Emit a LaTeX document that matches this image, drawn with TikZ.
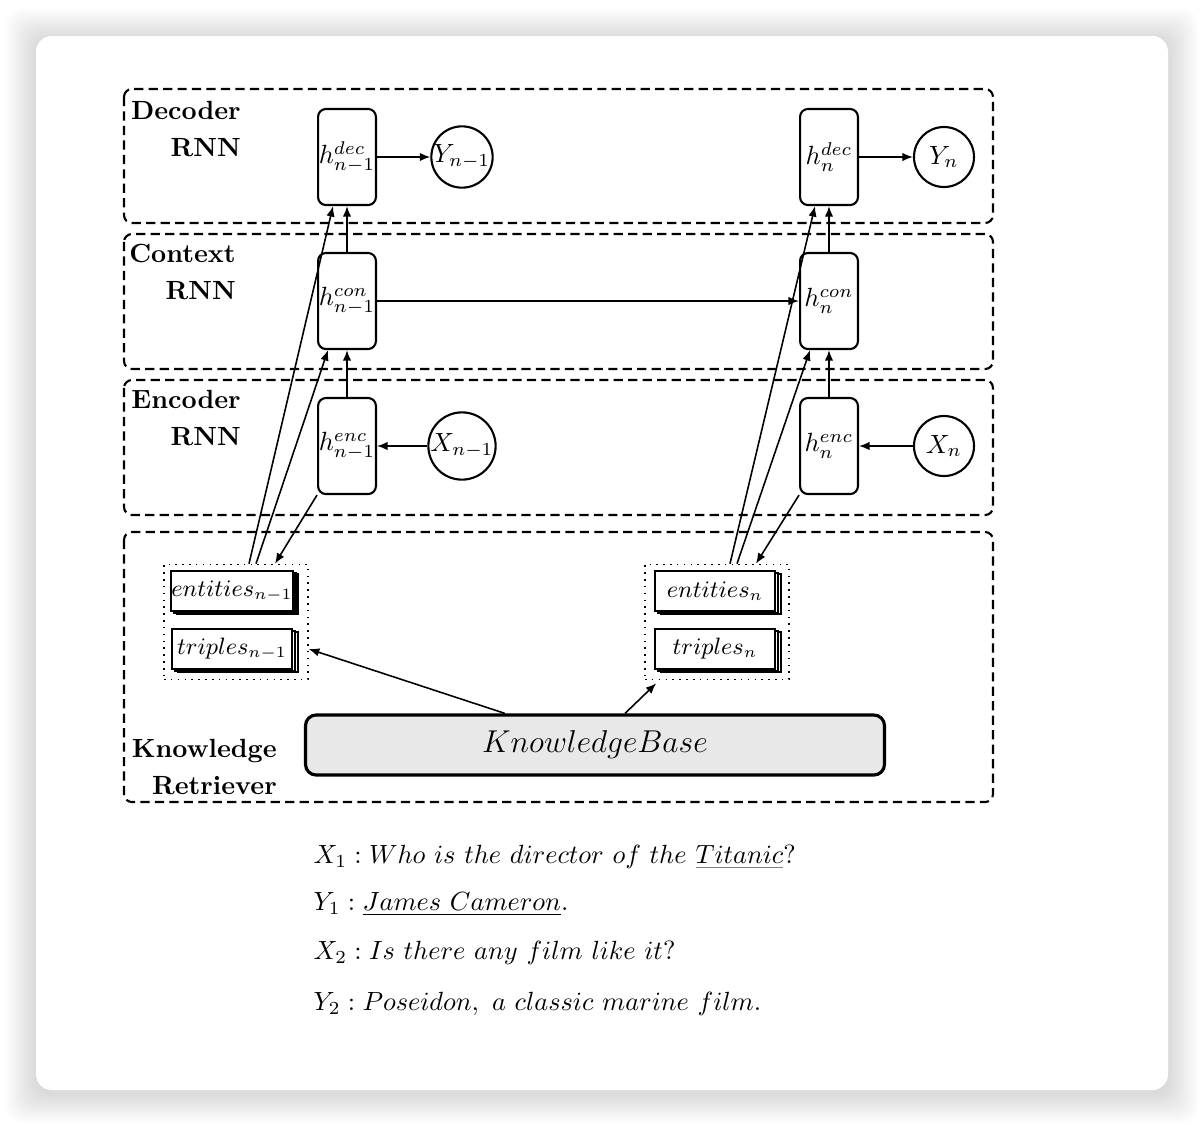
\documentclass[tikz,border=0pt]{standalone}
\usepackage{amsmath,amssymb}
\usetikzlibrary{arrows.meta,calc,shadows,positioning}

\newcommand{\grayul}[1]{\textcolor{gray}{\underline{\textcolor{black}{#1}}}}
\newsavebox{\qone}
\newsavebox{\aone}
\newsavebox{\qtwo}
\newsavebox{\atwo}

\begin{document}
\sbox{\qone}{$X_1: Who\ is\ the\ director\ of\ the\ \grayul{Titanic}?$}
\sbox{\aone}{$Y_1: \underline{James\ Cameron}.$}
\sbox{\qtwo}{$X_2: Is\ there\ any\ film\ like\ it?$}
\sbox{\atwo}{$Y_2: Poseidon,\ a\ classic\ marine\ film.$}
\begin{tikzpicture}[x=0.38pt,y=-0.38pt,>={Latex[length=4pt,width=3.2pt]},
  layer/.style={draw,thick,dash pattern=on 3.5pt off 2pt,rounded corners=3pt},
  layername/.style={font=\bfseries,align=right,anchor=east},
  hbox/.style={draw,thick,rounded corners=3pt,minimum width=22pt,
    minimum height=36.5pt,inner sep=0pt},
  token/.style={draw,thick,circle,minimum size=22.8pt,inner sep=0pt},
  doc/.style={draw,thick,fill=white,minimum width=45.6pt,minimum height=15.2pt,
    inner sep=0pt,font=\small,
    double copy shadow={shadow xshift=1.1pt,shadow yshift=-0.6pt}},
  grpbox/.style={draw,semithick,dotted,minimum width=54.7pt,minimum height=43.7pt,
    inner sep=0pt},
  kbbox/.style={draw,very thick,fill=gray!18,rounded corners=4pt,
    minimum width=220pt,minimum height=22.8pt,font=\large},
  link/.style={->,semithick},
  dialog/.style={anchor=west,inner sep=0pt}]
  \useasboundingbox (0,0) rectangle (1204,1126);
  % page with a soft shadow round the card
  \fill[white] (0,0) rectangle (1204,1126);
  \foreach \i in {1,...,12}
    \fill[black,opacity=0.012,rounded corners=6pt]
      (36-\i*2.5,36-\i*2.5+3) rectangle (1168+\i*2.5,1090+\i*2.5+3);
  \fill[white,rounded corners=6pt] (36,36) rectangle (1168,1090);

  % the four layers
  \draw[layer] (124,89) rectangle (993,223);
  \draw[layer] (124,234) rectangle (993,369);
  \draw[layer] (124,380) rectangle (993,515);
  \draw[layer] (124,532) rectangle (993,802);
  \node[layername] (declabel) at (250,129) {Decoder\\[2.4pt]RNN};
  \node[layername] (conlabel) at (245,272) {Context\\[2.4pt]RNN};
  \node[layername] (enclabel) at (250,418) {Encoder\\[2.4pt]RNN};
  \node[layername] (kblabel) at (286,767) {Knowledge\\[2.4pt]Retriever};

  % hidden states and tokens
  \node[hbox] (dec1) at (347,157) {$h^{dec}_{n-1}$};
  \node[token] (y1) at (462,157) {$Y_{n-1}$};
  \node[hbox] (dec2) at (829,157) {$h^{dec}_{n}$};
  \node[token] (y2) at (944,157) {$Y_n$};
  \node[hbox] (con1) at (347,301) {$h^{con}_{n-1}$};
  \node[hbox] (con2) at (829,301) {$h^{con}_{n}$};
  \node[hbox] (enc1) at (347,446) {$h^{enc}_{n-1}$};
  \node[token] (x1) at (462,446) {$X_{n-1}$};
  \node[hbox] (enc2) at (829,446) {$h^{enc}_{n}$};
  \node[token] (x2) at (944,446) {$X_n$};

  % retrieved knowledge
  \node[grpbox] (grp1) at (236,622) {};
  \node[doc] (ent1) at (232,591) {$entities_{n-1}$};
  \node[doc] (tri1) at (232,649) {$triples_{n-1}$};
  \node[grpbox] (grp2) at (717,622) {};
  \node[doc] (ent2) at (715,591) {$entities_{n}$};
  \node[doc] (tri2) at (715,649) {$triples_{n}$};
  \node[kbbox] (kb) at (595,745) {$KnowledgeBase$};

  \foreach \i in {1,2} {
    \draw[link] (dec\i) -- (y\i);
    \draw[link] (x\i) -- (enc\i);
    \draw[link] (enc\i) -- (con\i);
    \draw[link] (con\i) -- (dec\i);
    \draw[link] (enc\i.south west) -- ($(grp\i.north)+(39,0)$);
    \draw[link] ($(grp\i.north)+(13,0)$) -- ($(dec\i.south)+(-14,0)$);
    \draw[link] ($(grp\i.north)+(20,0)$) -- ($(con\i.south)+(-19,0)$);
  }
  \draw[link] (con1) -- (con2);
  \draw[link] ($(kb.north)+(-90,0)$) -- (grp1.east |- tri1.center);
  \draw[link] ($(kb.north)+(30,0)$) -- ($(grp2.south west)+(12,3)$);

  % example dialogue
  \node[dialog] (turn1) at (313,857) {\usebox{\qone}};
  \node[dialog] (turn2) at (313,904) {\usebox{\aone}};
  \node[dialog] (turn3) at (313,953) {\usebox{\qtwo}};
  \node[dialog] (turn4) at (313,1004) {\usebox{\atwo}};
\end{tikzpicture}
\end{document}
